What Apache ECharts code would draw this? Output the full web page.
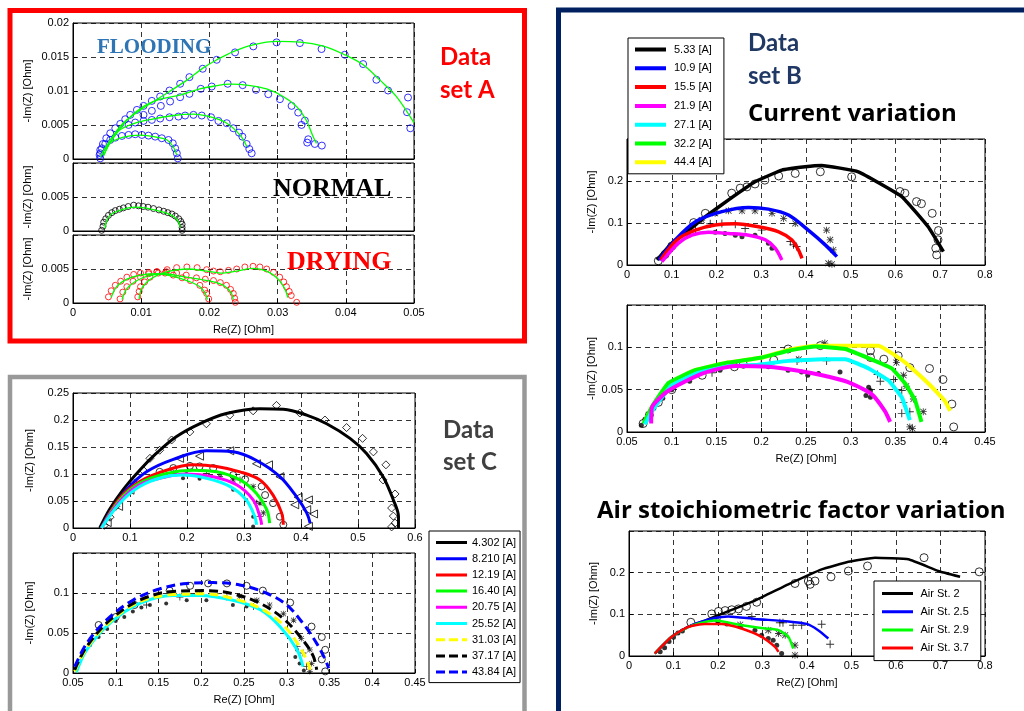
<!DOCTYPE html>
<html><head><meta charset="utf-8">
<script src="https://cdn.jsdelivr.net/npm/echarts@6/dist/echarts.min.js"></script>
<style>html,body{margin:0;padding:0;background:#fff}#c{width:1024px;height:711px}</style>
</head><body><div id="c"></div>
<script>
// ===== Data set A (x: Re(Z), y: -Im(Z)) =====
const A_fl1_fit = [[0.004,0.0003],[0.0069,0.0048],[0.0099,0.0072],[0.0138,0.0097],[0.0167,0.0116],[0.0191,0.0134],[0.0211,0.0146],[0.0235,0.0158],[0.0264,0.0168],[0.0299,0.0173],[0.0333,0.0172],[0.0367,0.0166],[0.0399,0.0153],[0.0425,0.0139],[0.045,0.0116],[0.0474,0.0092],[0.05,0.0053]];
const A_fl1_pts = [[0.02985,0.01715],[0.03327,0.01705],[0.03644,0.01617],[0.03985,0.01533],[0.04254,0.01396],[0.04449,0.01165],[0.0462,0.01007],[0.04912,0.00904],[0.04898,0.00688],[0.04946,0.00452],[0.02644,0.01656],[0.02376,0.01568],[0.02107,0.01459],[0.01902,0.01327],[0.01707,0.01204],[0.01571,0.01106],[0.01415,0.01007],[0.01278,0.00919],[0.01156,0.00855],[0.01034,0.00781],[0.00937,0.00722],[0.00839,0.00649],[0.00766,0.00585],[0.00693,0.00516],[0.0062,0.00452],[0.00546,0.00378],[0.00488,0.00305],[0.00439,0.00221],[0.004,0.00133],[0.0039,0.00059]];
const A_fl2_fit = [[0.0045,0.0005],[0.0055,0.0025],[0.0079,0.0057],[0.0103,0.0077],[0.0128,0.0088],[0.0157,0.0094],[0.0186,0.0103],[0.0206,0.0107],[0.023,0.011],[0.026,0.0108],[0.0284,0.0103],[0.0308,0.0092],[0.0328,0.0077],[0.0342,0.0057],[0.0352,0.0033],[0.0357,0.0023]];
const A_fl2_pts = [[0.02034,0.01066],[0.02268,0.01106],[0.02488,0.01086],[0.02683,0.01017],[0.02863,0.00953],[0.03034,0.0088],[0.03205,0.00781],[0.03302,0.00683],[0.034,0.00565],[0.03351,0.00501],[0.03449,0.0029],[0.03434,0.00241],[0.03546,0.00221],[0.03649,0.00197],[0.01873,0.01032],[0.01707,0.00958],[0.01571,0.00909],[0.01424,0.00845],[0.01288,0.00781],[0.01156,0.00708],[0.01034,0.00649]];
const A_fl3_fit = [[0.0045,0.0005],[0.0055,0.0025],[0.0069,0.0043],[0.0089,0.0052],[0.0113,0.0058],[0.0147,0.0064],[0.0177,0.0066],[0.0201,0.0062],[0.0225,0.0053],[0.0245,0.0035],[0.0255,0.0018]];
const A_fl3_pts = [[0.0262,0.00084],[0.02585,0.00147],[0.02546,0.00221],[0.02483,0.00329],[0.02434,0.00388],[0.02351,0.00452],[0.02254,0.00526],[0.02132,0.0056],[0.02024,0.00614],[0.01888,0.00639],[0.01766,0.00649],[0.01644,0.00639],[0.01546,0.00624],[0.01415,0.00614],[0.01278,0.00595],[0.01156,0.00575],[0.01034,0.0056],[0.00912,0.00536],[0.00815,0.00501]];
const A_fl4_fit = [[0.0042,0.0006],[0.0052,0.0022],[0.0074,0.0032],[0.0099,0.0035],[0.0123,0.0032],[0.0138,0.0028],[0.0147,0.0018],[0.0152,0.0006]];
const A_fl4_pts = [[0.004,0.0001],[0.004,0.00084],[0.00424,0.00157],[0.00473,0.00221],[0.00546,0.0028],[0.0062,0.00314],[0.00717,0.00339],[0.00815,0.00354],[0.00912,0.00364],[0.0101,0.00354],[0.01107,0.00344],[0.01205,0.00329],[0.01302,0.00305],[0.014,0.0028],[0.01463,0.00231],[0.01498,0.00157],[0.01522,0.00084],[0.01537,0.0001]];
const A_nor_pts = [[0.0042,0.0001],[0.0044,0.0007],[0.0045,0.0013],[0.0048,0.0018],[0.0052,0.0023],[0.0057,0.0027],[0.0062,0.003],[0.0068,0.0032],[0.0074,0.0034],[0.0081,0.0036],[0.0089,0.0038],[0.0096,0.0037],[0.0103,0.0036],[0.011,0.0035],[0.0118,0.0033],[0.0126,0.0031],[0.0133,0.0029],[0.0139,0.0027],[0.0145,0.0025],[0.015,0.0022],[0.0155,0.0018],[0.0158,0.0014],[0.016,0.001],[0.016,0.0005],[0.016,0.0001]];
const A_nor_fit = [[0.0047,0.0004],[0.005,0.0017],[0.0058,0.0026],[0.0074,0.0032],[0.009,0.0035],[0.0105,0.0034],[0.012,0.0031],[0.0135,0.0027],[0.0148,0.0021],[0.0155,0.0013],[0.0157,0.0005]];
const A_dr1_pts = [[0.0052,0.0009],[0.0056,0.0018],[0.0062,0.0026],[0.007,0.0032],[0.0079,0.0038],[0.0089,0.0042],[0.0099,0.0044],[0.0111,0.0045],[0.0123,0.0046],[0.0135,0.0044],[0.0147,0.0041],[0.016,0.0037],[0.0172,0.0033],[0.0186,0.0026],[0.0193,0.0019],[0.0196,0.0014],[0.0199,0.0006]];
const A_dr1_fit = [[0.0056,0.0008],[0.0064,0.0024],[0.0079,0.0035],[0.0099,0.0041],[0.0123,0.0043],[0.0147,0.0039],[0.0172,0.0031],[0.0186,0.0024],[0.0194,0.0014],[0.0197,0.0005]];
const A_dr2_pts = [[0.0069,0.0006],[0.0073,0.0016],[0.0079,0.0024],[0.0088,0.0032],[0.0099,0.0038],[0.0111,0.0043],[0.0123,0.0046],[0.0137,0.0046],[0.0152,0.0044],[0.0166,0.0041],[0.0181,0.0037],[0.0194,0.0035],[0.0206,0.0033],[0.0216,0.003],[0.0225,0.0026],[0.0231,0.002],[0.0235,0.0014],[0.0237,0.0007],[0.0238,0.0001]];
const A_dr2_fit = [[0.0072,0.0005],[0.0079,0.0021],[0.0092,0.0032],[0.011,0.004],[0.0135,0.0043],[0.016,0.0039],[0.0185,0.0035],[0.0206,0.0031],[0.0222,0.0025],[0.0232,0.0015],[0.0235,0.0005]];
const A_dr3_pts = [[0.0095,0.0009],[0.0097,0.0017],[0.0099,0.0024],[0.0105,0.0031],[0.0113,0.0038],[0.0125,0.0044],[0.0138,0.0049],[0.0152,0.0052],[0.0167,0.0053],[0.0182,0.0052],[0.0196,0.0049],[0.0206,0.0047],[0.0216,0.0046],[0.0228,0.0048],[0.024,0.005],[0.0252,0.0053],[0.0264,0.0054],[0.0274,0.0053],[0.0284,0.005],[0.0294,0.0045],[0.0303,0.0038],[0.0309,0.0031],[0.0313,0.0024],[0.0317,0.0017],[0.032,0.0011],[0.0328,0.0001]];
const A_dr3_fit = [[0.0097,0.0006],[0.0101,0.0022],[0.0115,0.0036],[0.0138,0.0046],[0.0167,0.005],[0.0196,0.0047],[0.0216,0.0044],[0.024,0.0047],[0.0264,0.0051],[0.0284,0.0047],[0.03,0.0036],[0.031,0.0022],[0.0315,0.0008]];

// ===== Data set C =====
const C_names = ['4.302 [A]','8.210 [A]','12.19 [A]','16.40 [A]','20.75 [A]','25.52 [A]','31.03 [A]','37.17 [A]','43.84 [A]'];
const C1_fit_4302 = [[0.047,0],[0.064,0.034],[0.088,0.071],[0.117,0.107],[0.146,0.138],[0.181,0.169],[0.222,0.193],[0.269,0.212],[0.328,0.221],[0.369,0.22],[0.41,0.209],[0.445,0.193],[0.486,0.166],[0.515,0.138],[0.544,0.095],[0.562,0.052],[0.571,0.021],[0.571,0]];
const C1_pts_4302 = [[0.055,0.005],[0.065,0.02],[0.075,0.04],[0.09,0.06],[0.105,0.085],[0.123,0.107],[0.135,0.129],[0.152,0.144],[0.173,0.163],[0.205,0.178],[0.234,0.193],[0.275,0.209],[0.316,0.217],[0.357,0.227],[0.398,0.213],[0.442,0.2],[0.48,0.186],[0.508,0.166],[0.527,0.141],[0.549,0.117],[0.544,0.089],[0.565,0.063],[0.559,0.037],[0.562,0.022],[0.565,0.009],[0.559,0.002]];
const C1_fit_8210 = [[0.05,0],[0.064,0.028],[0.094,0.071],[0.129,0.104],[0.176,0.127],[0.234,0.143],[0.281,0.141],[0.322,0.125],[0.363,0.095],[0.392,0.058],[0.41,0.028],[0.416,0.009]];
const C1_pts_8210 = [[0.06,0.01],[0.08,0.04],[0.1,0.07],[0.187,0.129],[0.222,0.133],[0.275,0.143],[0.322,0.119],[0.343,0.117],[0.363,0.095],[0.395,0.057],[0.413,0.052],[0.389,0.043],[0.41,0.034],[0.422,0.026],[0.413,0.003]];
const C1_fit_1219 = [[0.05,0],[0.082,0.055],[0.117,0.086],[0.164,0.107],[0.211,0.117],[0.252,0.114],[0.293,0.104],[0.328,0.089],[0.351,0.061],[0.366,0.028],[0.369,0.006]];
const C1_pts_1219 = [[0.152,0.104],[0.176,0.111],[0.205,0.115],[0.222,0.114],[0.246,0.111],[0.281,0.098],[0.302,0.09],[0.331,0.077],[0.337,0.061],[0.351,0.046],[0.363,0.021],[0.369,0.006]];
const C1_fit_1640 = [[0.05,0],[0.082,0.052],[0.117,0.083],[0.164,0.101],[0.211,0.107],[0.252,0.104],[0.293,0.089],[0.322,0.064],[0.34,0.034],[0.345,0.009]];
const C1_pts_1640 = [[0.199,0.101],[0.258,0.095],[0.281,0.089],[0.316,0.077],[0.328,0.046],[0.334,0.028]];
const C1_fit_2075 = [[0.05,0],[0.082,0.049],[0.117,0.08],[0.164,0.095],[0.199,0.1],[0.246,0.095],[0.287,0.08],[0.316,0.052],[0.328,0.021],[0.331,0.006]];
const C1_pts_2075 = [[0.176,0.101],[0.234,0.101],[0.293,0.089],[0.322,0.046],[0.328,0.021]];
const C1_fit_2552 = [[0.05,0],[0.082,0.046],[0.117,0.077],[0.158,0.094],[0.193,0.098],[0.234,0.092],[0.275,0.077],[0.304,0.052],[0.319,0.021],[0.322,0.006]];
const C1_pts_2552 = [[0.105,0.077],[0.141,0.095],[0.193,0.092],[0.222,0.091],[0.281,0.071],[0.304,0.052],[0.316,0.021],[0.316,0.003]];
const C2_fit_4384 = [[0.052,0.008],[0.066,0.037],[0.089,0.066],[0.12,0.091],[0.151,0.105],[0.183,0.112],[0.214,0.113],[0.245,0.11],[0.276,0.1],[0.3,0.085],[0.319,0.062],[0.335,0.037],[0.345,0.017],[0.349,0.006]];
const C2_pts_4384 = [[0.08,0.06],[0.1,0.07],[0.122,0.085],[0.163,0.103],[0.187,0.109],[0.208,0.112],[0.23,0.112],[0.253,0.109],[0.272,0.103],[0.304,0.088],[0.329,0.058],[0.341,0.045],[0.345,0.029],[0.341,0.017],[0.345,0.002]];
const C2_fit_3717 = [[0.052,0.004],[0.066,0.033],[0.093,0.066],[0.128,0.091],[0.167,0.102],[0.206,0.103],[0.237,0.099],[0.269,0.087],[0.296,0.068],[0.319,0.041],[0.331,0.021],[0.335,0.004]];
const C2_pts_3717 = [[0.245,0.096],[0.265,0.091],[0.28,0.085],[0.296,0.074],[0.308,0.066],[0.317,0.043],[0.327,0.029],[0.329,0.012],[0.327,0.002]];
const C2_fit_3103 = [[0.052,0.002],[0.066,0.031],[0.093,0.064],[0.128,0.089],[0.167,0.098],[0.206,0.099],[0.237,0.093],[0.269,0.081],[0.296,0.06],[0.315,0.033],[0.325,0.012],[0.327,0.004]];
const C2_pts_3103 = [[0.136,0.085],[0.175,0.095],[0.198,0.1],[0.23,0.095],[0.261,0.083],[0.312,0.033],[0.319,0.025],[0.323,0.008]];
const C2_fit_2552 = [[0.054,0.001],[0.066,0.029],[0.093,0.062],[0.128,0.087],[0.167,0.097],[0.198,0.097],[0.237,0.091],[0.269,0.079],[0.292,0.058],[0.312,0.029],[0.319,0.008]];
const C2_pts_2552 = [[0.06,0.02],[0.07,0.035],[0.08,0.045],[0.09,0.055],[0.1,0.065],[0.11,0.07],[0.12,0.077],[0.13,0.082],[0.14,0.085],[0.159,0.087],[0.183,0.091],[0.206,0.091],[0.237,0.085],[0.253,0.083],[0.312,0.029],[0.31,0.02],[0.315,0.012],[0.32,0.003]];

// ===== Data set B =====
const B_names = ['5.33 [A]','10.9 [A]','15.5 [A]','21.9 [A]','27.1 [A]','32.2 [A]','44.4 [A]'];
const B1_fit_533 = [[0.067,0.012],[0.1,0.052],[0.138,0.083],[0.175,0.115],[0.227,0.155],[0.286,0.198],[0.346,0.226],[0.398,0.234],[0.435,0.237],[0.517,0.222],[0.614,0.163],[0.673,0.091],[0.707,0.032]];
const B1_pts_533 = [[0.07,0.01],[0.085,0.025],[0.1,0.045],[0.149,0.101],[0.175,0.123],[0.234,0.171],[0.253,0.183],[0.268,0.186],[0.286,0.193],[0.308,0.202],[0.339,0.212],[0.376,0.218],[0.432,0.222],[0.502,0.21],[0.61,0.175],[0.621,0.171],[0.647,0.151],[0.658,0.146],[0.682,0.123],[0.696,0.082],[0.695,0.06],[0.69,0.04],[0.692,0.024]];
const B1_fit_109 = [[0.071,0.012],[0.108,0.06],[0.153,0.103],[0.212,0.127],[0.272,0.137],[0.316,0.133],[0.361,0.119],[0.405,0.083],[0.443,0.048],[0.469,0.02]];
const B1_pts_109 = [[0.167,0.107],[0.197,0.123],[0.227,0.129],[0.257,0.129],[0.286,0.129],[0.324,0.123],[0.35,0.111],[0.376,0.099],[0.446,0.083],[0.454,0.06],[0.461,0.036],[0.45,0.004],[0.458,0.002]];
const B1_fit_155 = [[0.075,0.012],[0.112,0.06],[0.153,0.083],[0.197,0.095],[0.242,0.098],[0.294,0.091],[0.339,0.079],[0.368,0.06],[0.383,0.036],[0.391,0.016]];
const B1_pts_155 = [[0.153,0.083],[0.186,0.098],[0.212,0.099],[0.242,0.097],[0.264,0.087],[0.301,0.083],[0.365,0.056],[0.372,0.048],[0.379,0.044]];
const B1_fit_219 = [[0.078,0.008],[0.115,0.052],[0.145,0.071],[0.182,0.078],[0.227,0.075],[0.272,0.071],[0.309,0.06],[0.331,0.04],[0.346,0.012]];
const B1_pts_219 = [[0.138,0.071],[0.197,0.078],[0.219,0.075],[0.242,0.071],[0.257,0.067],[0.286,0.071],[0.316,0.052],[0.324,0.04]];
const B2_fit_444 = [[0.0686,0.0098],[0.0779,0.029],[0.0965,0.057],[0.126,0.073],[0.163,0.082],[0.201,0.088],[0.23,0.097],[0.26,0.102],[0.297,0.102],[0.331,0.102],[0.361,0.082],[0.387,0.057],[0.405,0.037],[0.411,0.025]];
const B2_fit_322 = [[0.0686,0.0098],[0.0779,0.03],[0.0965,0.058],[0.126,0.073],[0.163,0.082],[0.201,0.088],[0.23,0.096],[0.26,0.101],[0.294,0.098],[0.327,0.084],[0.346,0.075],[0.361,0.057],[0.372,0.037],[0.379,0.012]];
const B2_fit_271 = [[0.07,0.009],[0.08,0.028],[0.1,0.055],[0.13,0.07],[0.165,0.078],[0.193,0.079],[0.23,0.084],[0.268,0.086],[0.294,0.086],[0.32,0.075],[0.342,0.061],[0.357,0.041],[0.366,0.014]];
const B2_fit_219 = [[0.077,0.01],[0.0779,0.029],[0.0965,0.049],[0.134,0.069],[0.171,0.078],[0.208,0.077],[0.238,0.073],[0.268,0.067],[0.297,0.059],[0.323,0.045],[0.338,0.025],[0.344,0.012]];
const B2_pts_444 = [[0.068,0.01],[0.075,0.02],[0.085,0.035],[0.1,0.05],[0.134,0.067],[0.17,0.077],[0.18,0.08],[0.214,0.085],[0.23,0.098],[0.266,0.102],[0.322,0.096],[0.322,0.088],[0.337,0.086],[0.353,0.09],[0.366,0.076],[0.388,0.075],[0.403,0.062],[0.413,0.033],[0.415,0.006]];
const B2_pts_322 = [[0.242,0.086],[0.271,0.105],[0.351,0.082],[0.359,0.067],[0.362,0.054],[0.37,0.039],[0.381,0.024],[0.366,0.006],[0.369,0.004]];
const B2_pts_271 = [[0.09,0.045],[0.145,0.07],[0.2,0.08],[0.24,0.084],[0.273,0.084],[0.33,0.068],[0.333,0.06],[0.348,0.062],[0.357,0.049],[0.359,0.035],[0.366,0.024],[0.357,0.022]];
const B2_pts_219 = [[0.066,0.008],[0.07,0.015],[0.08,0.028],[0.09,0.04],[0.1,0.05],[0.12,0.06],[0.154,0.073],[0.208,0.077],[0.23,0.073],[0.245,0.071],[0.252,0.067],[0.264,0.069],[0.288,0.071],[0.32,0.053],[0.322,0.049],[0.322,0.041],[0.317,0.043]];
const B3_names = ['Air St. 2','Air St. 2.5','Air St. 2.9','Air St. 3.7'];
const B3_fit_2 = [[0.058,0.006],[0.096,0.046],[0.133,0.07],[0.171,0.085],[0.208,0.101],[0.283,0.133],[0.358,0.172],[0.433,0.208],[0.493,0.226],[0.553,0.236],[0.628,0.232],[0.695,0.204],[0.744,0.19]];
const B3_pts_2 = [[0.139,0.081],[0.186,0.101],[0.201,0.107],[0.216,0.109],[0.231,0.111],[0.246,0.113],[0.264,0.119],[0.287,0.129],[0.373,0.174],[0.403,0.18],[0.407,0.172],[0.418,0.18],[0.454,0.19],[0.493,0.204],[0.536,0.216],[0.663,0.236],[0.787,0.202]];
const B3_fit_25 = [[0.058,0.006],[0.096,0.046],[0.141,0.074],[0.193,0.091],[0.223,0.095],[0.283,0.089],[0.358,0.083],[0.399,0.077],[0.425,0.062],[0.448,0.042]];
const B3_pts_25 = [[0.276,0.095],[0.339,0.08],[0.346,0.08],[0.369,0.074],[0.388,0.074],[0.433,0.076],[0.452,0.028]];
const B3_fit_29 = [[0.058,0.006],[0.096,0.046],[0.141,0.073],[0.193,0.085],[0.253,0.074],[0.306,0.066],[0.336,0.062],[0.358,0.046],[0.369,0.018]];
const B3_pts_29 = [[0.2,0.083],[0.25,0.075],[0.313,0.062],[0.336,0.054],[0.351,0.05],[0.373,0.026],[0.373,0.002]];
const B3_fit_37 = [[0.058,0.006],[0.096,0.046],[0.133,0.07],[0.171,0.077],[0.208,0.077],[0.253,0.066],[0.298,0.046],[0.328,0.022],[0.336,0.01]];
const B3_pts_37 = [[0.07,0.01],[0.08,0.02],[0.09,0.035],[0.1,0.045],[0.11,0.055],[0.12,0.06],[0.2,0.08],[0.22,0.077],[0.25,0.07],[0.283,0.062],[0.298,0.05],[0.313,0.042],[0.324,0.038],[0.332,0.026],[0.343,0.006]];

// ===== rendering =====
const PLUS = 'path://M4.4,0h1.2v10h-1.2z M0,4.4h10v1.2h-10z';
const STAR = 'path://M4.4,0h1.2v10h-1.2z M0,4.4h10v1.2h-10z M1.2,0.4L9.6,8.8L8.8,9.6L0.4,1.2z M0.4,8.8L8.8,0.4L9.6,1.2L1.2,9.6z';
const ICON_SOLID = 'path://M0,0h0.01v0.01h-0.01z M0,3.5h31v3h-31z M0,9.99h0.01v0.01h-0.01z';
const ICON_THICK = 'path://M0,0h0.01v0.01h-0.01z M0,3h31v4h-31z M0,9.99h0.01v0.01h-0.01z';
const ICON_DASH = 'path://M0,0h0.01v0.01h-0.01z M0,3.5h9v3h-9z M13,3.5h9v3h-9z M26,3.5h5v3h-5z M0,9.99h0.01v0.01h-0.01z';
const FONT = 'Liberation Sans';
const grids = [
  {left:73, top:23, width:341, height:136},   //A1
  {left:73, top:163, width:341, height:68},   //A2
  {left:73, top:235, width:341, height:68},   //A3
  {left:73, top:393, width:342, height:135},  //C1
  {left:73, top:553, width:342, height:120},  //C2
  {left:627, top:139, width:358, height:126}, //B1
  {left:627, top:305, width:358, height:127}, //B2
  {left:629, top:531, width:356, height:125}  //B3
].map(g => Object.assign({show:true, borderColor:'#000', borderWidth:1, backgroundColor:'#fff'}, g));
const axCfg = [
  // [xmin,xmax,xint,showX,xname, ymin,ymax,yint,showYMax]
  [0,0.05,0.01,false,'',0,0.02,0.005,true],
  [0,0.05,0.01,false,'',0,0.01,0.005,false],
  [0,0.05,0.01,true,'Re(Z) [Ohm]',0,0.01,0.005,false],
  [0,0.6,0.1,true,'',0,0.25,0.05,true],
  [0.05,0.45,0.05,true,'Re(Z) [Ohm]',0,0.15,0.05,false],
  [0,0.8,0.1,true,'',0,0.3,0.1,false],
  [0.05,0.45,0.05,true,'Re(Z) [Ohm]',0,0.15,0.05,false],
  [0,0.8,0.1,true,'Re(Z) [Ohm]',0,0.3,0.1,false]
];
const yNameGap = [40,40,40,38,38,30,30,30];
const split = {show:true, lineStyle:{color:'#000', type:[5,4], width:0.8}};
const lbl = {color:'#000', fontSize:11, fontFamily:FONT, margin:4};
const xAxis = axCfg.map((c,i)=>({gridIndex:i, type:'value', min:c[0], max:c[1], interval:c[2],
  axisLine:{lineStyle:{color:'#000'}}, axisTick:{inside:true,length:4,lineStyle:{color:'#000'}},
  axisLabel:Object.assign({show:c[3]}, lbl), splitLine:split,
  name:c[4], nameLocation:'middle', nameGap:21, nameTextStyle:{color:'#000',fontSize:11,fontFamily:FONT}}));
const yAxis = axCfg.map((c,i)=>({gridIndex:i, type:'value', min:c[5], max:c[6], interval:c[7],
  axisLine:{lineStyle:{color:'#000'}}, axisTick:{inside:true,length:4,lineStyle:{color:'#000'}},
  axisLabel:Object.assign({showMaxLabel:c[8]}, lbl), splitLine:split,
  name:'-Im(Z) [Ohm]', nameLocation:'middle', nameRotate:90, nameGap:yNameGap[i],
  nameTextStyle:{color:'#000',fontSize:11,fontFamily:FONT}}));

const series = [];
function pts(g, data, color, symbol, size, filled, rot){
  series.push({type:'scatter', xAxisIndex:g, yAxisIndex:g, data, symbol, symbolSize:size, symbolRotate:rot||0,
    silent:true, z:2, itemStyle: filled ? {color} : {color:'rgba(0,0,0,0)', borderColor:color, borderWidth:1}});
}
function fit(g, name, data, color, width, dash, smooth){
  series.push({type:'line', name, xAxisIndex:g, yAxisIndex:g, data, symbol:'none', showSymbol:false,
    smooth: smooth===undefined?0.35:smooth, silent:true, z:3, itemStyle:{color},
    lineStyle:{color, width, type: dash?[9,5]:'solid'}});
}
// A
pts(0,A_fl1_pts,'#0000FF','circle',7); pts(0,A_fl2_pts,'#0000FF','circle',7);
pts(0,A_fl3_pts,'#0000FF','circle',7); pts(0,A_fl4_pts,'#0000FF','circle',7);
fit(0,'a1',A_fl1_fit,'#00FF00',1.3); fit(0,'a2',A_fl2_fit,'#00FF00',1.3);
fit(0,'a3',A_fl3_fit,'#00FF00',1.3); fit(0,'a4',A_fl4_fit,'#00FF00',1.3);
pts(1,A_nor_pts,'#000000','circle',6); fit(1,'an',A_nor_fit,'#00FF00',1.3);
pts(2,A_dr1_pts,'#FF0000','circle',6); pts(2,A_dr2_pts,'#FF0000','circle',6); pts(2,A_dr3_pts,'#FF0000','circle',6);
fit(2,'d1',A_dr1_fit,'#00FF00',1.3); fit(2,'d2',A_dr2_fit,'#00FF00',1.3); fit(2,'d3',A_dr3_fit,'#00FF00',1.3);
// C1
pts(3,C1_pts_4302,'#000','diamond',8); pts(3,C1_pts_8210,'#000','triangle',8,false,90);
pts(3,C1_pts_1219,'#000','circle',7); pts(3,C1_pts_1640,'#000',STAR,6,true);
pts(3,C1_pts_2075,'#000',PLUS,7,true); pts(3,C1_pts_2552,'#000','circle',4,true);
fit(3,C_names[0],C1_fit_4302,'#000000',3); fit(3,C_names[1],C1_fit_8210,'#0000FF',3);
fit(3,C_names[2],C1_fit_1219,'#FF0000',3); fit(3,C_names[3],C1_fit_1640,'#00FF00',3);
fit(3,C_names[4],C1_fit_2075,'#FF00FF',3); fit(3,C_names[5],C1_fit_2552,'#00FFFF',3);
// C2
pts(4,C2_pts_4384,'#000','circle',7); pts(4,C2_pts_3717,'#000',STAR,6,true);
pts(4,C2_pts_3103,'#000',PLUS,7,true); pts(4,C2_pts_2552,'#000','circle',4,true);
fit(4,C_names[5],C2_fit_2552,'#00FFFF',3); fit(4,C_names[6],C2_fit_3103,'#FFFF00',3,true);
fit(4,C_names[7],C2_fit_3717,'#000000',3,true); fit(4,C_names[8],C2_fit_4384,'#0000FF',3,true);
// B1
pts(5,B1_pts_533,'#000','circle',8); pts(5,B1_pts_109,'#000',STAR,7,true);
pts(5,B1_pts_155,'#000',PLUS,8,true); pts(5,B1_pts_219,'#000','circle',5,true);
fit(5,B_names[0],B1_fit_533,'#000000',3.5,false,0.1); fit(5,B_names[1],B1_fit_109,'#0000FF',3.5,false,0.3);
fit(5,B_names[2],B1_fit_155,'#FF0000',3.5,false,0.3); fit(5,B_names[3],B1_fit_219,'#FF00FF',3.5,false,0.3);
// B2
pts(6,B2_pts_444,'#000','circle',8); pts(6,B2_pts_322,'#000',STAR,7,true);
pts(6,B2_pts_271,'#000',PLUS,8,true); pts(6,B2_pts_219,'#000','circle',5,true);
fit(6,B_names[6],B2_fit_444,'#FFFF00',4,false,0.1); fit(6,B_names[5],B2_fit_322,'#00FF00',4,false,0.1);
fit(6,B_names[4],B2_fit_271,'#00FFFF',4,false,0.1); fit(6,B_names[3],B2_fit_219,'#FF00FF',4,false,0.2);
// B3
pts(7,B3_pts_2,'#000','circle',8); pts(7,B3_pts_25,'#000',PLUS,8,true);
pts(7,B3_pts_29,'#000',STAR,7,true); pts(7,B3_pts_37,'#000','circle',5,true);
fit(7,B3_names[0],B3_fit_2,'#000000',2.5,false,0.1); fit(7,B3_names[1],B3_fit_25,'#0000FF',2.5,false,0.2);
fit(7,B3_names[2],B3_fit_29,'#00FF00',2.5,false,0.2); fit(7,B3_names[3],B3_fit_37,'#FF0000',2.5,false,0.2);

const legBase = {orient:'vertical', selectedMode:false, backgroundColor:'#fff', borderColor:'#000', borderWidth:1,
  borderRadius:0, itemHeight:10, textStyle:{color:'#000', fontSize:11, fontFamily:FONT}, z:20};
const legend = [
  Object.assign({}, legBase, {data:C_names.map((n,i)=>({name:n, icon: i>=6 ? ICON_DASH : ICON_SOLID})),
    left:429, top:531, itemWidth:31, itemGap:5.2, itemTextGap:4, padding:[6,4,5,7]}),
  Object.assign({}, legBase, {data:B_names.map(n=>({name:n, icon:ICON_THICK})),
    left:628, top:38, itemWidth:37, itemGap:7.8, itemTextGap:5, padding:[6,12,6,7]}),
  Object.assign({}, legBase, {data:B3_names.map(n=>({name:n, icon:ICON_SOLID})),
    left:874, top:581, itemWidth:36, itemGap:7.2, itemTextGap:5, padding:[7,12,7,8]})
];
function txt(x,y,t,font,fill){ return {type:'text', x, y, z:100, style:{text:t, font, fill, textAlign:'left', textVerticalAlign:'middle'}}; }
const graphic = [
  {type:'rect', z:-10, shape:{x:10,y:10.5,width:514.5,height:330.5}, style:{fill:'none', stroke:'#FF0000', lineWidth:5}},
  {type:'rect', z:-10, shape:{x:10,y:377,width:514.5,height:345}, style:{fill:'none', stroke:'#999999', lineWidth:4.5}},
  {type:'rect', z:-10, shape:{x:558.5,y:10,width:480,height:720}, style:{fill:'none', stroke:'#002060', lineWidth:5}},
  txt(97,48,'FLOODING','bold 21px "Liberation Serif"','#2E75B6'),
  txt(273,189,'NORMAL','bold 26px "Liberation Serif"','#000'),
  txt(287,262,'DRYING','bold 26px "Liberation Serif"','#FF0000'),
  txt(440,57,'Data','bold 24px Lato','#FF0000'),
  txt(440,90,'set A','bold 24px Lato','#FF0000'),
  txt(443,430,'Data','bold 24px Lato','#404040'),
  txt(443,462,'set C','bold 24px Lato','#404040'),
  txt(748,43,'Data','bold 24px Lato','#1F3864'),
  txt(748,76,'set B','bold 24px Lato','#1F3864'),
  txt(748,114,'Current variation','bold 24px "Open Sans"','#000'),
  txt(597,511,'Air stoichiometric factor variation','bold 24px "Open Sans"','#000')
];
const chart = echarts.init(document.getElementById('c'), null, {renderer:'canvas'});
chart.setOption({animation:false, backgroundColor:'#fff', grid:grids, xAxis, yAxis, series, legend, graphic});
</script></body></html>
